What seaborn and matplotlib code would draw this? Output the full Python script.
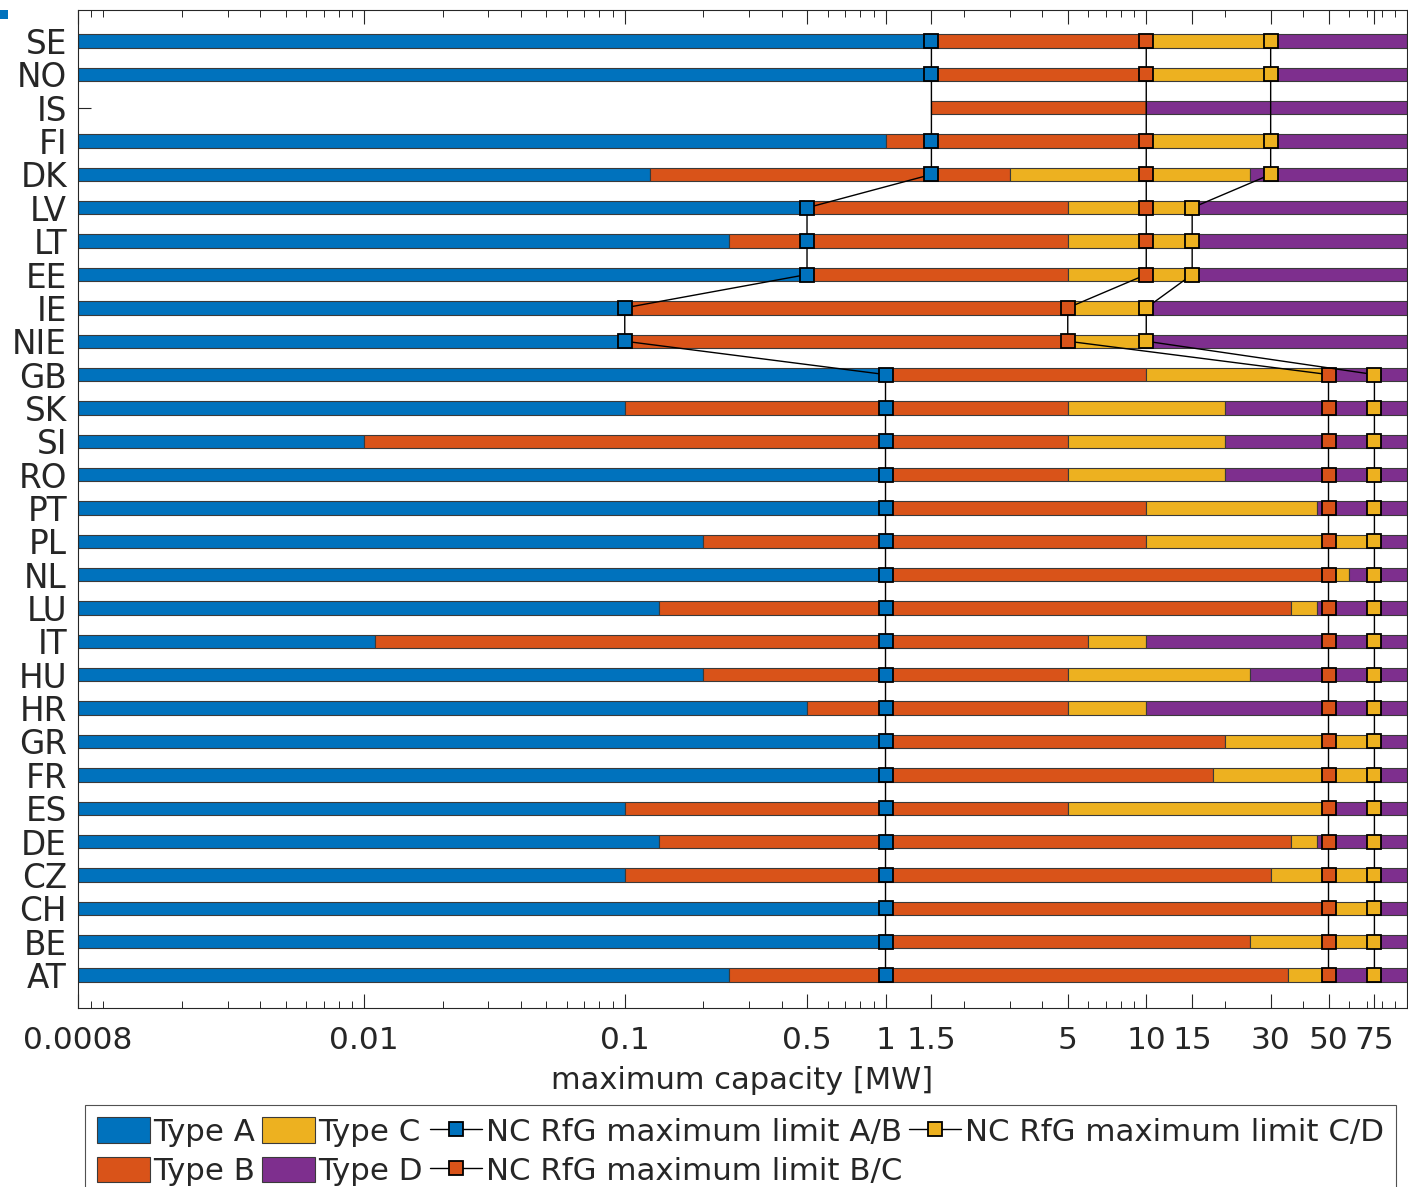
import numpy as np
import pandas as pd
import matplotlib
matplotlib.use("Agg")
import matplotlib.pyplot as plt
import seaborn as sns
from matplotlib.patches import Patch, Rectangle
from matplotlib.lines import Line2D
from matplotlib.ticker import FixedLocator, FixedFormatter, LogLocator, NullFormatter

nan = np.nan

countries = ["SE", "NO", "IS", "FI", "DK", "LV", "LT", "EE", "IE", "NIE",
             "GB", "SK", "SI", "RO", "PT", "PL", "NL", "LU", "IT", "HU",
             "HR", "GR", "FR", "ES", "DE", "CZ", "CH", "BE", "AT"]

# National upper bounds of each generator type [MW]
type_a_max = [1.5, 1.5, 1.5, 1.0, 0.125, 0.5, 0.25, 0.5, 0.1, 0.1,
              1, 0.1, 0.01, 1, 1, 0.2, 1, 0.135, 0.011, 0.2,
              0.5, 1, 1, 0.1, 0.135, 0.1, 1, 1, 0.25]
type_b_max = [10, 10, 10, 10, 3, 5, 5, 5, 5, 5,
              10, 5, 5, 5, 10, 10, 50, 36, 6, 5,
              5, 20, 18, 5, 36, 30, 50, 25, 35]
type_c_max = [30, 30, 10, 30, 25, 15, 15, 15, 10, 10,
              50, 20, 20, 20, 45, 75, 60, 45, 10, 25,
              10, 75, 75, 50, 45, 75, 75, 75, 50]
no_type_a = ["IS"]

capacity_min = 0.0008
capacity_max = 100

# NC RfG maximum thresholds per synchronous area [MW]
rfg_ab = [1.5, 1.5, nan, 1.5, 1.5, 0.5, 0.5, 0.5, 0.1, 0.1,
          1, 1, 1, 1, 1, 1, 1, 1, 1, 1,
          1, 1, 1, 1, 1, 1, 1, 1, 1]
rfg_bc = [10, 10, nan, 10, 10, 10, 10, 10, 5, 5,
          50, 50, 50, 50, 50, 50, 50, 50, 50, 50,
          50, 50, 50, 50, 50, 50, 50, 50, 50]
rfg_cd = [30, 30, nan, 30, 30, 15, 15, 15, 10, 10,
          75, 75, 75, 75, 75, 75, 75, 75, 75, 75,
          75, 75, 75, 75, 75, 75, 75, 75, 75]

type_labels = ["Type A", "Type B", "Type C", "Type D"]
type_colors = ["#0072BD", "#D95319", "#EDB120", "#7E2F8E"]
limit_labels = ["NC RfG maximum limit A/B", "NC RfG maximum limit B/C",
                "NC RfG maximum limit C/D"]

sns.set_theme(style="white")
plt.rcParams["font.family"] = ["DejaVu Sans"]
text_color = "#262626"

fig = plt.figure(figsize=(14.08, 11.87), dpi=100)
W, H = 1408, 1187
ax = fig.add_axes([78 / W, 1 - 1008 / H, (1407 - 78) / W, (1008 - 10) / H])

tbl = pd.DataFrame({"country": countries, "a": type_a_max,
                    "b": type_b_max, "c": type_c_max})
a_end = tbl["a"].where(~tbl["country"].isin(no_type_a))
segments = [
    (pd.Series(capacity_min, index=tbl.index), a_end),
    (tbl["a"], tbl["b"]),
    (tbl["b"], tbl["c"]),
    (tbl["c"], pd.Series(capacity_max, index=tbl.index)),
]

for (start, end), color in zip(segments, type_colors):
    seg = pd.DataFrame({"country": tbl["country"], "start": start,
                        "width": end - start}).dropna()
    sns.barplot(data=seg, x="width", y="country", order=countries,
                orient="h", left=seg["start"].to_numpy(), color=color,
                saturation=1, width=0.4, errorbar=None,
                edgecolor="#3a3a3a", linewidth=0.8, ax=ax)

ax.set_xscale("log")

positions = np.arange(len(countries))
for lim, color in zip([rfg_ab, rfg_bc, rfg_cd], type_colors[:3]):
    ld = pd.DataFrame({"cap": lim, "pos": positions}).dropna()
    sns.lineplot(data=ld, x="cap", y="pos", sort=False, estimator=None,
                 color="black", linewidth=1.0, marker="s", markersize=9.5,
                 markerfacecolor=color, markeredgecolor="black",
                 markeredgewidth=1.3, zorder=5, legend=False, ax=ax)

ax.set_xlim(capacity_min, capacity_max)
ax.set_ylim(28.99, -0.93)

xt = [0.0008, 0.01, 0.1, 0.5, 1, 1.5, 5, 10, 15, 30, 50, 75]
xtl = ["0.0008", "0.01", "0.1", "0.5", "1", "1.5", "5", "10", "15", "30", "50", "75"]
ax.xaxis.set_major_locator(FixedLocator(xt))
ax.xaxis.set_major_formatter(FixedFormatter(xtl))
ax.xaxis.set_minor_locator(LogLocator(base=10, subs=np.arange(1, 10), numticks=50))
ax.xaxis.set_minor_formatter(NullFormatter())

ax.set_yticks(positions)
ax.set_yticklabels(countries)

ax.tick_params(axis="x", which="major", direction="in", length=10, width=0.8,
               top=True, bottom=True, labelsize=22.5, colors=text_color, pad=13)
ax.tick_params(axis="x", which="minor", direction="in", length=5, width=0.7,
               top=True, bottom=True, colors=text_color)
ax.tick_params(axis="y", which="major", direction="in", length=9, width=0.8,
               left=True, right=True, labelsize=23.5, colors=text_color, pad=8)

for s in ax.spines.values():
    s.set_visible(True)
    s.set_color(text_color)
    s.set_linewidth(0.8)

ax.set_ylabel("")
ax.set_xlabel("maximum capacity [MW]", fontsize=22, color=text_color, labelpad=8)

handles = [Patch(facecolor=c, edgecolor="#3a3a3a", linewidth=0.8) for c in type_colors]
handles += [Line2D([], [], color="black", linewidth=1.0, marker="s", markersize=9.5,
                   markerfacecolor=c, markeredgecolor="black", markeredgewidth=1.3)
            for c in type_colors[:3]]
labels = type_labels + limit_labels
leg = fig.legend(handles, labels, ncol=4, loc="upper left",
                 bbox_to_anchor=(85 / W, 1 - 1105 / H), fontsize=22.2,
                 frameon=True, fancybox=False, edgecolor="#262626",
                 handlelength=1.7, handleheight=0.9, handletextpad=0.12,
                 columnspacing=0.22, borderpad=0.4, labelspacing=0.32,
                 borderaxespad=0)
leg.get_frame().set_linewidth(0.8)
for t in leg.get_texts():
    t.set_color(text_color)

fig.add_artist(Rectangle((0, 1 - 19 / H), 8 / W, 9 / H, transform=fig.transFigure,
                         facecolor="#0072BD", edgecolor="none"))

fig.savefig("out.png", dpi=100)
